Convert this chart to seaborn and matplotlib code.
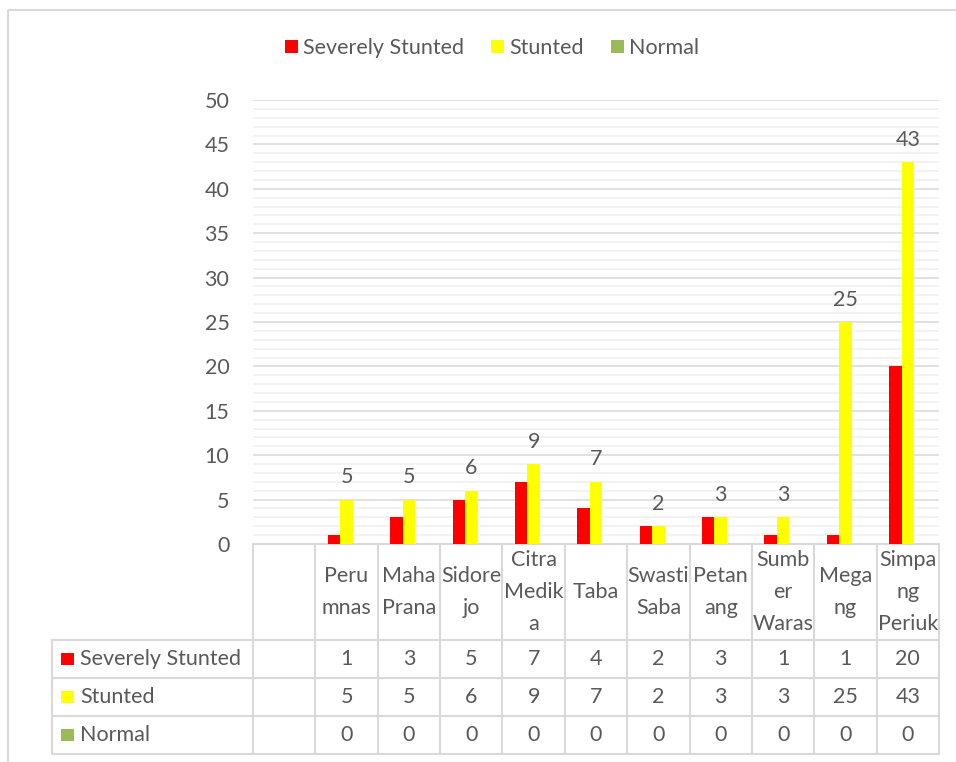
import pandas as pd
import matplotlib.pyplot as plt
import seaborn as sns
from matplotlib.patches import Patch, Rectangle
from matplotlib.ticker import MultipleLocator

# data
kategori = ['Perumnas', 'Maha Prana', 'Sidorejo', 'Citra Medika', 'Taba',
            'Swasti Saba', 'Petang', 'Sumber Waras', 'Megang', 'Simpang Periuk']
label_tabel = ['Peru\nmnas', 'Maha\nPrana', 'Sidore\njo', 'Citra\nMedik\na', 'Taba',
               'Swasti\nSaba', 'Petan\nang', 'Sumb\ner\nWaras', 'Mega\nng', 'Simpa\nng\nPeriuk']
seri = ['Severely Stunted', 'Stunted', 'Normal']
severely = [1, 3, 5, 7, 4, 2, 3, 1, 1, 20]
stunted = [5, 5, 6, 9, 7, 2, 3, 3, 25, 43]
normal = [0, 0, 0, 0, 0, 0, 0, 0, 0, 0]
warna = ['#ff0000', '#ffff00', '#9bbb59']

nilai = {'Severely Stunted': severely, 'Stunted': stunted, 'Normal': normal}
df = pd.DataFrame([(k, s, nilai[s][i]) for s in seri for i, k in enumerate(kategori)],
                  columns=['Kategori', 'Seri', 'Jumlah'])

sns.set_style('white')
plt.rcParams['font.family'] = ['Lato', 'DejaVu Sans']
abu = '#595959'
garis = '#d9d9d9'
fs = 15.5

W, H = 956, 762
fig = plt.figure(figsize=(W / 100, H / 100), dpi=100)

# lapisan untuk bingkai dan tabel (koordinat piksel)
bg = fig.add_axes([0, 0, 1, 1], zorder=0)
bg.set_xlim(0, W)
bg.set_ylim(H, 0)
bg.axis('off')

x0, x1, y0, y1 = 253, 939, 100, 544
ax = fig.add_axes([x0 / W, 1 - y1 / H, (x1 - x0) / W, (y1 - y0) / H], zorder=1)
ax.patch.set_visible(False)

sns.barplot(data=df, x='Kategori', y='Jumlah', hue='Seri', order=kategori,
            hue_order=seri, palette=warna, width=0.6, saturation=1,
            linewidth=0, errorbar=None, ax=ax)
ax.bar_label(ax.containers[1], fontsize=fs, color=abu, padding=9)
ax.legend_.remove()

ax.set_xlim(-1.5, len(kategori) - 0.5)
ax.set_ylim(0, 50)
ax.yaxis.set_major_locator(MultipleLocator(5))
ax.yaxis.set_minor_locator(MultipleLocator(1))
ax.grid(axis='y', which='major', color=garis, linewidth=1.1)
ax.grid(axis='y', which='minor', color='#f0f0f0', linewidth=1.1)
ax.set_axisbelow(True)
ax.set_xticks([])
ax.set_xlabel('')
ax.set_ylabel('')
ax.tick_params(axis='y', which='both', length=0, pad=17, labelsize=fs, labelcolor=abu)
for sp in ax.spines.values():
    sp.set_visible(False)

# bingkai luar
bg.add_patch(Rectangle((8, 10), 1000, 800, fill=False, edgecolor=garis, linewidth=1.5))

# tabel data
lebar = (x1 - x0) / 11
baris = [544, 640, 678, 716, 754]
bg.plot([x0, x1], [544, 544], color=garis, linewidth=1.5)
for y in baris[1:]:
    bg.plot([52, x1], [y, y], color=garis, linewidth=1.5)
bg.plot([52, 52], [640, 754], color=garis, linewidth=1.5)
for k in range(12):
    xk = x0 + k * lebar
    bg.plot([xk, xk], [544, 754], color=garis, linewidth=1.5)

for i, lab in enumerate(label_tabel):
    xc = x0 + (i + 1.5) * lebar
    bg.text(xc, 592, lab, ha='center', va='center', fontsize=fs, color=abu,
            linespacing=1.72)

for r, s in enumerate(seri):
    yc = (baris[r + 1] + baris[r + 2]) / 2
    bg.add_patch(Rectangle((61, yc - 6), 13, 12, color=warna[r], linewidth=0))
    bg.text(80, yc, s, ha='left', va='center', fontsize=fs, color=abu)
    for i, v in enumerate(nilai[s]):
        xc = x0 + (i + 1.5) * lebar
        bg.text(xc, yc, str(v), ha='center', va='center', fontsize=fs, color=abu)

# legenda atas
handles = [Patch(facecolor=c, edgecolor='none') for c in warna]
fig.legend(handles, seri, loc='center', bbox_to_anchor=(492 / W, 1 - 48 / H),
           ncol=3, frameon=False, fontsize=fs, labelcolor=abu,
           handlelength=0.6, handleheight=0.6, handletextpad=0.25,
           columnspacing=1.25)

plt.savefig('out.png', dpi=100)
